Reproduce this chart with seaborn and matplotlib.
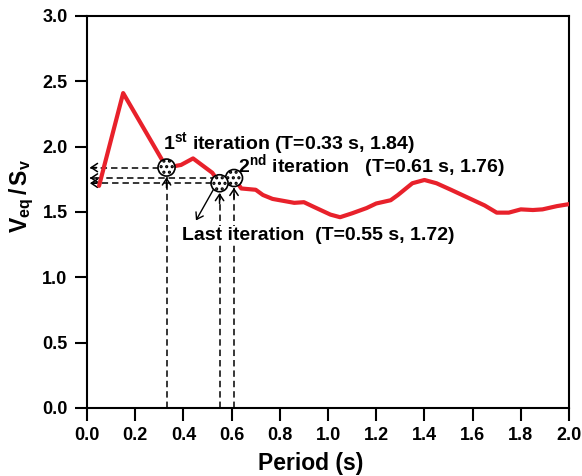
import matplotlib
matplotlib.use("Agg")
import matplotlib.pyplot as plt
import seaborn as sns
import pandas as pd

# Ratio spectrum V_eq / S_v versus period
period = [0.05, 0.15, 0.33, 0.39, 0.44, 0.52, 0.55, 0.61, 0.64, 0.70, 0.73, 0.77,
          0.86, 0.90, 0.94, 1.01, 1.05, 1.10, 1.16, 1.20, 1.26, 1.29, 1.35, 1.40,
          1.45, 1.51, 1.58, 1.65, 1.70, 1.75, 1.80, 1.85, 1.89, 1.95, 2.00]
ratio = [1.70, 2.41, 1.84, 1.86, 1.91, 1.80, 1.72, 1.76, 1.68, 1.67, 1.63, 1.60,
         1.57, 1.575, 1.54, 1.48, 1.46, 1.49, 1.53, 1.565, 1.59, 1.63, 1.72, 1.745,
         1.72, 1.67, 1.61, 1.55, 1.495, 1.495, 1.52, 1.515, 1.52, 1.545, 1.56]

# Iteration results (period, ratio)
iter_T = [0.33, 0.61, 0.55]
iter_R = [1.84, 1.76, 1.72]
iter_labels = [r"1$^{\mathbf{st}}$ iteration (T=0.33 s, 1.84)",
               r"2$^{\mathbf{nd}}$ iteration   (T=0.61 s, 1.76)",
               "Last iteration  (T=0.55 s, 1.72)"]

x_ticks = [0.0, 0.2, 0.4, 0.6, 0.8, 1.0, 1.2, 1.4, 1.6, 1.8, 2.0]
y_ticks = [0.0, 0.5, 1.0, 1.5, 2.0, 2.5, 3.0]

sns.set_style("ticks")
plt.rcParams["font.family"] = ["Liberation Sans", "DejaVu Sans"]
plt.rcParams["font.weight"] = "bold"
plt.rcParams["text.color"] = "black"
plt.rcParams["axes.labelcolor"] = "black"
plt.rcParams["mathtext.fontset"] = "custom"
plt.rcParams["mathtext.rm"] = "Liberation Sans:bold"
plt.rcParams["mathtext.bf"] = "Liberation Sans:bold"
plt.rcParams["mathtext.it"] = "Liberation Sans:bold"
plt.rcParams["hatch.linewidth"] = 1.5
plt.rcParams["hatch.color"] = "black"

fig = plt.figure(figsize=(5.82, 4.76), dpi=100)
ax = fig.add_axes([0.1495, 0.1429, 0.8282, 0.8235])

df = pd.DataFrame({"Period": period, "Ratio": ratio})
sns.lineplot(data=df, x="Period", y="Ratio", ax=ax, color="#e8212b", lw=3.0,
             zorder=3, estimator=None, sort=False)

dash = (0, (4.2, 2.6))
head = dict(arrowstyle="->,head_length=0.45,head_width=0.3", color="black",
            lw=1.1, shrinkA=0, shrinkB=0)
r_off_x = 0.03
r_off_y = 0.055
for T, R in zip(iter_T, iter_R):
    # horizontal guide to the ordinate
    ax.plot([T - r_off_x, 0.012], [R, R], color="black", lw=1.1, ls=dash, zorder=2)
    ax.annotate("", xy=(0.012, R), xytext=(0.04, R), arrowprops=head, zorder=2)
    # vertical guide from the abscissa
    top = R - r_off_y - 0.02
    ax.plot([T, T], [0, top], color="black", lw=1.1, ls=dash, zorder=2)
    ax.annotate("", xy=(T, top), xytext=(T, top - 0.08), arrowprops=head, zorder=2)

ax.scatter(iter_T, iter_R, s=150, facecolor="white", edgecolor="black",
           linewidth=1.2, hatch="...", zorder=5)

ax.text(0.315, 2.03, iter_labels[0], fontsize=14, fontweight="bold",
        va="center", ha="left", zorder=6)
ax.text(0.627, 1.85, iter_labels[1], fontsize=14, fontweight="bold",
        va="center", ha="left", zorder=6)
ax.text(0.394, 1.32, iter_labels[2], fontsize=14, fontweight="bold",
        va="center", ha="left", zorder=6,
        bbox=dict(facecolor="white", edgecolor="none", pad=0.5))
ax.annotate("", xy=(0.452, 1.435), xytext=(0.533, 1.70),
            arrowprops=dict(arrowstyle="->,head_length=0.45,head_width=0.3",
                            color="black", lw=1.0, shrinkA=0, shrinkB=0))

ax.set_xlim(0, 2.0)
ax.set_ylim(0, 3.0)
ax.set_xticks(x_ticks)
ax.set_yticks(y_ticks)
ax.set_xticklabels([f"{v:.1f}" for v in x_ticks])
ax.set_yticklabels([f"{v:.1f}" for v in y_ticks])
ax.tick_params(axis="both", direction="out", length=9, width=1.5,
               labelsize=13, pad=5, colors="black")
for lab in ax.get_xticklabels() + ax.get_yticklabels():
    lab.set_fontweight("bold")
for sp in ax.spines.values():
    sp.set_visible(True)
    sp.set_linewidth(1.5)
    sp.set_color("black")

ax.set_xlabel("Period (s)", fontsize=16.5, fontweight="bold")
ax.set_ylabel(r"$\mathbf{V_{eq}\,/\,S_v}$", fontsize=16.5)
ax.xaxis.set_label_coords(0.465, -0.113)
ax.yaxis.set_label_coords(-0.105, 0.54)

fig.savefig("out.png", dpi=100)
